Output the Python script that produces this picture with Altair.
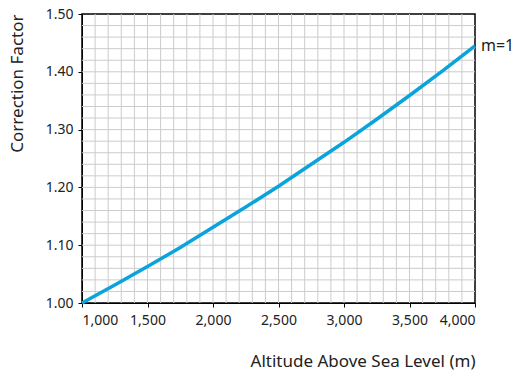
import altair as alt
import pandas as pd

altitude = [1000, 1250, 1500, 1750, 2000, 2250, 2500, 2750, 3000, 3250, 3500, 3750, 4000]
factor = [1.000, 1.031, 1.063, 1.096, 1.131, 1.166, 1.202, 1.240, 1.278, 1.318, 1.359, 1.401, 1.445]
series_label = "m=1"

x_ticks = [1000, 1500, 2000, 2500, 3000, 3500, 4000]
y_ticks = [1.00, 1.10, 1.20, 1.30, 1.40, 1.50]
x_grid = list(range(1100, 4000, 100))
y_grid = [round(1.0 + 0.02 * i, 2) for i in range(1, 25)]

df = pd.DataFrame({"alt": altitude, "f": factor})
lab = pd.DataFrame({"alt": [altitude[-1]], "f": [factor[-1]], "t": [series_label]})

FONT = "Noto Sans"
TXT = "#222222"
xs = alt.Scale(domain=[1000, 4000], nice=False, zero=False)
ys = alt.Scale(domain=[1.0, 1.5], nice=False, zero=False)

xaxis = alt.Axis(title="Altitude Above Sea Level (m)", values=x_ticks, format=",.0f",
                 grid=False, domainColor="black", tickColor="black", tickSize=4,
                 labelFont=FONT, labelFontSize=14, labelColor=TXT, labelPadding=6,
                 titleFont=FONT, titleFontSize=17, titleFontWeight="normal",
                 titleColor=TXT, titleAnchor="end", titlePadding=26)
yaxis = alt.Axis(title="Correction Factor", values=y_ticks, format=".2f",
                 grid=False, domainColor="black", tickColor="black", tickSize=4,
                 labelFont=FONT, labelFontSize=14, labelColor=TXT, labelPadding=5,
                 titleFont=FONT, titleFontSize=17, titleFontWeight="normal",
                 titleColor=TXT, titleAnchor="end", titlePadding=19)

gx = alt.Chart(pd.DataFrame({"v": x_grid})).mark_rule(color="#cccccc", strokeWidth=1).encode(
    x=alt.X("v:Q", scale=xs, axis=xaxis))
gy = alt.Chart(pd.DataFrame({"v": y_grid})).mark_rule(color="#cccccc", strokeWidth=1).encode(
    y=alt.Y("v:Q", scale=ys, axis=yaxis))

line = alt.Chart(df).mark_line(color="#0aa3dc", strokeWidth=3.5).encode(
    x=alt.X("alt:Q", scale=xs, axis=xaxis),
    y=alt.Y("f:Q", scale=ys, axis=yaxis),
)

text = alt.Chart(lab).mark_text(align="left", baseline="middle", dx=6, font=FONT,
                                fontSize=16, color=TXT).encode(
    x=alt.X("alt:Q", scale=xs, axis=xaxis), y=alt.Y("f:Q", scale=ys, axis=yaxis), text="t:N")

chart = alt.layer(gx, gy, line, text).properties(
    width=393, height=289,
    autosize=alt.AutoSizeParams(type="none"),
    padding={"left": 74, "top": 6, "right": 41, "bottom": 70},
).configure_view(stroke="black", strokeWidth=1.5)

chart.save("out.html", embed_options={"renderer": "svg", "actions": False})
